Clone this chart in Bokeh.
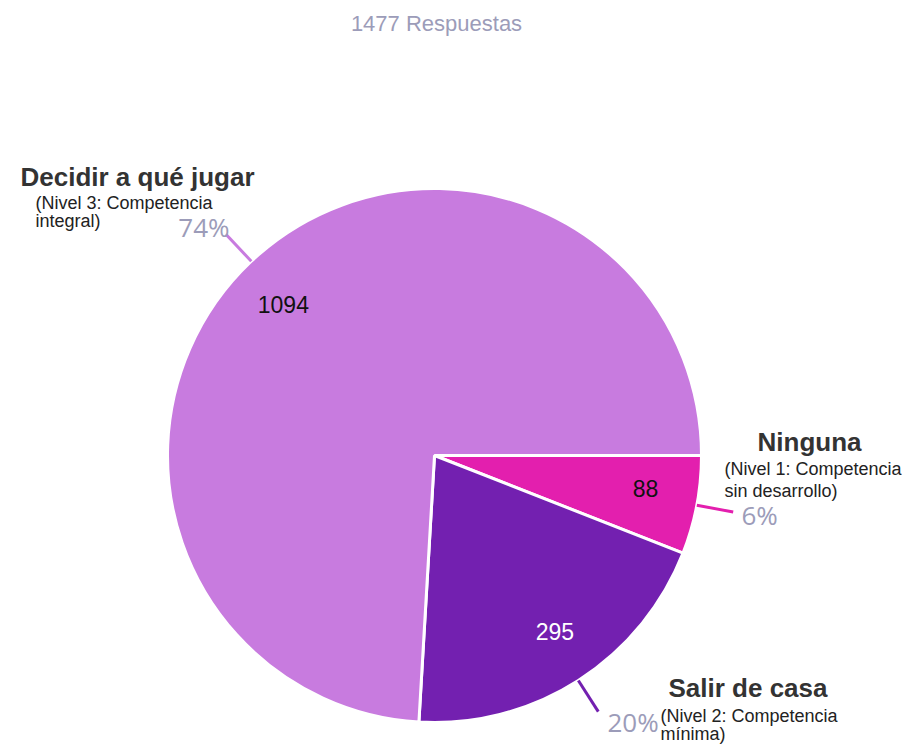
import math
from bokeh.plotting import figure
from bokeh.models import Range1d, ColumnDataSource
from bokeh.core.properties import value
from bokeh.embed import file_html
from bokeh.resources import INLINE

# ---- data ----
categories = ["Ninguna", "Salir de casa", "Decidir a qué jugar"]
subtitles = [["(Nivel 1: Competencia", "sin desarrollo)"],
             ["(Nivel 2: Competencia", "mínima)"],
             ["(Nivel 3: Competencia", "integral)"]]
counts = [88, 295, 1094]
total_label = "1477 Respuestas"

# ---- style ----
colors = ["#E31FAE", "#7320B0", "#C87BDF"]
value_colors = ["#111111", "#FFFFFF", "#111111"]
pct_color = "#9C9CB9"

W, H = 910, 749
def X(px): return px
def Y(py): return H - py
def YT(py, fs):  # text baseline position (screen px) corrected for renderer offset
    return H - (py - 0.4 * fs)

p = figure(width=W, height=H, output_backend="svg", toolbar_location=None,
           x_range=Range1d(0, W), y_range=Range1d(0, H), min_border=0)
p.axis.visible = False
p.grid.visible = False
p.outline_line_color = None
p.background_fill_color = "white"
p.border_fill_color = "white"

cx, cy, R = X(434), Y(455), 267
total = sum(counts)
ends, starts, mids = [], [], []
acc = 0.0
for c in counts:
    a0 = -2 * math.pi * acc / total
    acc += c
    a1 = -2 * math.pi * acc / total
    starts.append(a1)
    ends.append(a0)
    mids.append((a0 + a1) / 2)

src = ColumnDataSource(dict(start=starts, end=ends, color=colors))
p.wedge(x=cx, y=cy, radius=R, start_angle="start", end_angle="end",
        fill_color="color", line_color="white", line_width=3, source=src)

# value labels inside slices
lab_ang = [m + 0.03 for m in mids]
vx = [cx + 0.8 * R * math.cos(m) for m in lab_ang]
vy = [cy + 0.8 * R * math.sin(m) for m in lab_ang]
p.text(x=vx, y=vy, text=[str(c) for c in counts], text_color=value_colors,
       text_align="center", text_baseline="middle", text_font_size="23px",
       text_font=value("Liberation Sans"))

# leader lines
for m, col in zip(mids, colors):
    p.line([cx + R * math.cos(m), cx + (R + 37) * math.cos(m)],
           [cy + R * math.sin(m), cy + (R + 37) * math.sin(m)],
           line_color=col, line_width=3)

# percentages (layout positions in screen pixels)
pcts = [f"{round(100 * c / total)}%" for c in counts]
pct_pos = [(741, 525, "left"), (607, 732, "left"), (229, 237, "right")]
for t, (px, py, al) in zip(pcts, pct_pos):
    p.text(x=[X(px)], y=[YT(py, 26)], text=[t], text_color=pct_color, text_align=al,
           text_baseline="alphabetic", text_font_size="26px",
           text_font=value("Open Sans"))

# category names and subtitles
name_pos = [(757, 452), (668, 698), (20, 187)]
sub_pos = [(724, 476, 22), (660, 723, 18), (35, 210, 18)]
for name, subs, (nx, ny), (sx, sy, lh) in zip(categories, subtitles, name_pos, sub_pos):
    p.text(x=[X(nx)], y=[YT(ny, 26)], text=[name], text_color="#333333",
           text_font_style="bold", text_font_size="26px", text_align="left",
           text_baseline="alphabetic", text_font=value("Liberation Sans"))
    for i, s in enumerate(subs):
        p.text(x=[X(sx)], y=[YT(sy + i * lh, 18)], text=[s], text_color="#222222",
               text_font_size="18px", text_align="left", text_baseline="alphabetic",
               text_font=value("Liberation Sans"))

# title
p.text(x=[X(436)], y=[YT(32, 22)], text=[total_label], text_color=pct_color,
       text_align="center", text_baseline="alphabetic", text_font_size="22px",
       text_font=value("Liberation Sans"))

open("out.html", "w").write(file_html(p, INLINE))
